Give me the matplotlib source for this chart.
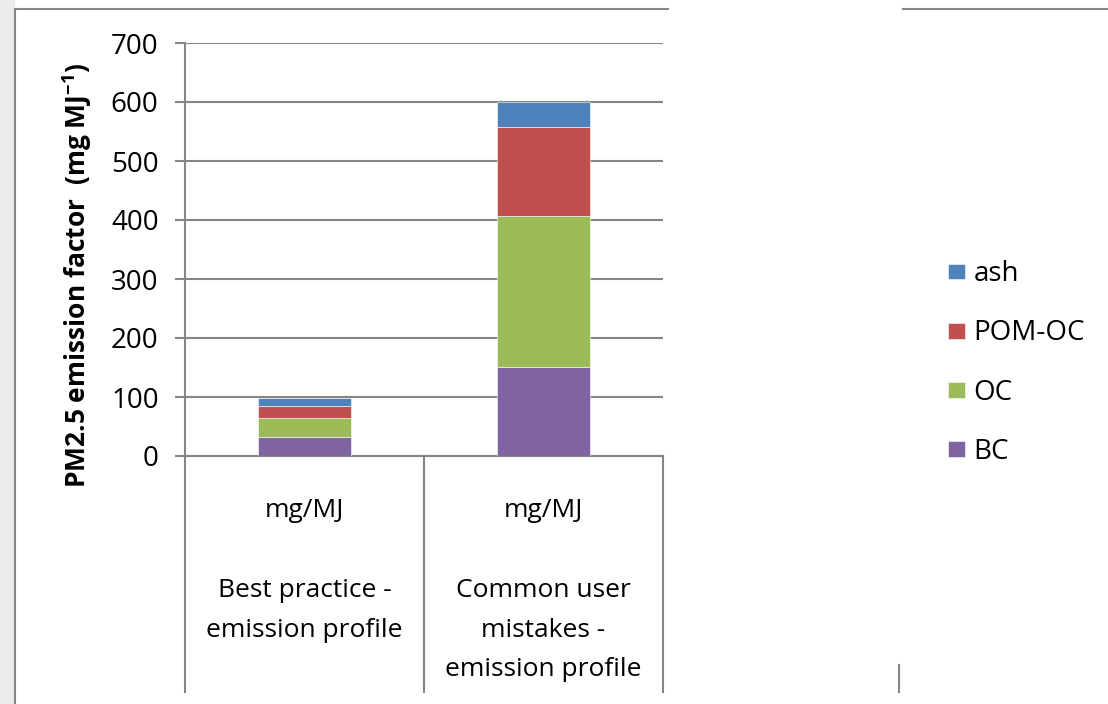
import matplotlib.pyplot as plt
from matplotlib.patches import Rectangle
from matplotlib.lines import Line2D
from matplotlib.transforms import blended_transform_factory

plt.rcParams['font.family'] = ['Open Sans', 'DejaVu Sans']
plt.rcParams['mathtext.fontset'] = 'custom'
plt.rcParams['mathtext.rm'] = 'Open Sans'
plt.rcParams['mathtext.bf'] = 'Open Sans:bold'

# stacked components of the PM2.5 emission factor (mg/MJ)
profiles = ['Best practice -\nemission profile',
            'Common user\nmistakes -\nemission profile']
units = ['mg/MJ', 'mg/MJ']
bc = [32, 151]
oc = [33, 255]
pom_oc = [20, 152]
ash = [13, 42]

series = [('BC', bc, '#8064A2'),
          ('OC', oc, '#9BBB59'),
          ('POM-OC', pom_oc, '#C0504D'),
          ('ash', ash, '#4F81BD')]

grey = '#868686'
fs = 20

fig = plt.figure(figsize=(11.08, 7.04), dpi=100)
ax = fig.add_axes([185 / 1108, 1 - 456 / 704, 478 / 1108, 413 / 704])

x = list(range(len(profiles)))
bottom = [0] * len(profiles)
for name, vals, col in series:
    ax.bar(x, vals, width=0.39, bottom=bottom, color=col, label=name,
           edgecolor='white', linewidth=0.4, zorder=3)
    bottom = [b + v for b, v in zip(bottom, vals)]

ax.set_xlim(-0.5, 1.5)
ax.set_ylim(0, 700)
ax.set_yticks(range(0, 701, 100))
ax.yaxis.grid(True, color=grey, linewidth=1.5, zorder=0)
ax.set_xticks([])
ax.tick_params(axis='y', length=7, width=1.5, color=grey, labelsize=fs,
               pad=12)
for side in ['top', 'right']:
    ax.spines[side].set_visible(False)
ax.spines['left'].set_color(grey)
ax.spines['left'].set_linewidth(1.5)
ax.spines['bottom'].set_color(grey)
ax.spines['bottom'].set_linewidth(1.5)

ax.set_ylabel(r'PM2.5 emission factor  (mg MJ$^{\mathbf{-1}}$)',
              fontsize=19, fontweight='bold')
ax.yaxis.set_label_coords(-0.19, 0.438)

# category table below the plot
tr = blended_transform_factory(ax.transData, ax.transAxes)
for xs in [-0.5, 0.5, 1.5]:
    ax.add_line(Line2D([xs, xs], [0, -0.571], transform=tr, color=grey,
                       linewidth=1.5, clip_on=False))
for i in x:
    ax.text(i, -0.131, units[i], transform=tr, ha='center', va='center',
            fontsize=19)
    ax.text(i, -0.295, profiles[i], transform=tr, ha='center', va='top',
            fontsize=19, linespacing=1.78)

# legend, top entry first
handles, labels = ax.get_legend_handles_labels()
fig.legend(handles[::-1], labels[::-1], loc='center left',
           bbox_to_anchor=(948 / 1108, 1 - 363 / 704), frameon=False,
           fontsize=fs, handlelength=0.62, handleheight=0.5,
           handletextpad=0.3, labelspacing=1.12, borderpad=0,
           borderaxespad=0)

# outer frame and left edge shading
fig.add_artist(Rectangle((0, 0), 14 / 1108, 1, transform=fig.transFigure,
                         color='#ececec', zorder=0))
frame = dict(transform=fig.transFigure, color=grey, linewidth=1.5)
fig.add_artist(Line2D([15 / 1108, 15 / 1108], [0, 1 - 9 / 704], **frame))
fig.add_artist(Line2D([15 / 1108, 668 / 1108], [1 - 9 / 704] * 2, **frame))
fig.add_artist(Line2D([903 / 1108, 1], [1 - 9 / 704] * 2, **frame))
fig.add_artist(Line2D([899 / 1108] * 2, [1 - 665 / 704, 1 - 692 / 704],
                      **frame))

fig.savefig('out.png', dpi=100)
